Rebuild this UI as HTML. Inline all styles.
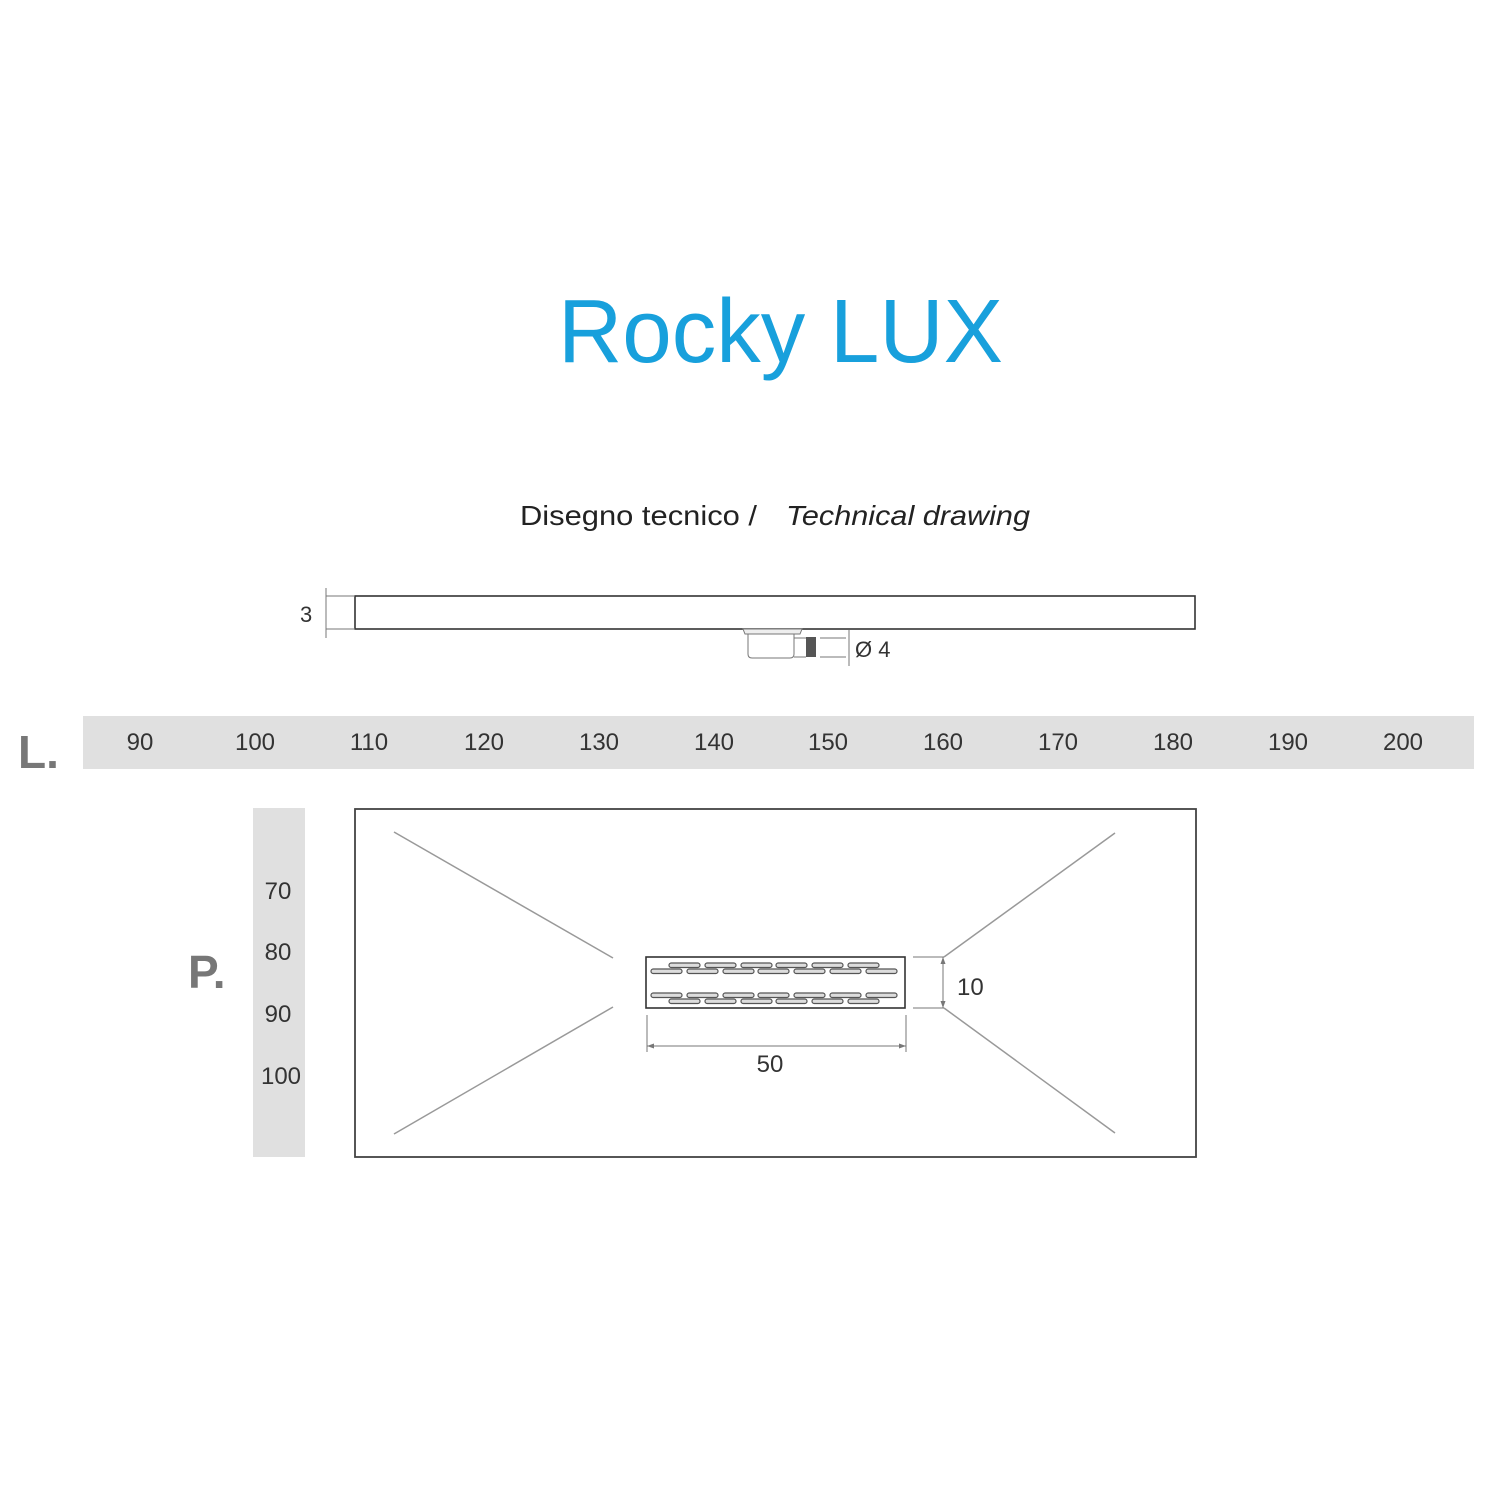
<!DOCTYPE html>
<html><head><meta charset="utf-8"><style>
html,body{margin:0;padding:0;background:#fff;}
svg{display:block;}
</style></head><body>
<svg width="1500" height="1500" viewBox="0 0 1500 1500" xmlns="http://www.w3.org/2000/svg" font-family="Liberation Sans, sans-serif">
<rect width="1500" height="1500" fill="#fff"/>
<text x="558" y="362" font-size="90" fill="#18a0dc" textLength="445" lengthAdjust="spacingAndGlyphs">Rocky LUX</text>
<text x="520" y="525" font-size="28" fill="#222" textLength="237" lengthAdjust="spacingAndGlyphs">Disegno tecnico /</text>
<text x="786" y="525" font-size="28" fill="#222" font-style="italic" textLength="244" lengthAdjust="spacingAndGlyphs">Technical drawing</text>

<!-- side view -->
<rect x="355" y="596" width="840" height="33" fill="none" stroke="#333" stroke-width="1.6"/>
<g stroke="#777" stroke-width="1">
<line x1="326" y1="588" x2="326" y2="638"/>
<line x1="326" y1="596" x2="355" y2="596"/>
<line x1="326" y1="629" x2="355" y2="629"/>
</g>
<text x="300" y="622" font-size="22" fill="#333">3</text>
<path d="M743 629 L802 629 L800 634 L745 634 Z" fill="#eee" stroke="#777" stroke-width="1"/>
<path d="M748 634 L794 634 L794 654 Q794 658 790 658 L752 658 Q748 658 748 654 Z" fill="#fff" stroke="#777" stroke-width="1"/>
<line x1="794" y1="638" x2="806" y2="638" stroke="#777"/>
<line x1="794" y1="657" x2="806" y2="657" stroke="#777"/>
<rect x="806" y="637" width="10" height="20" fill="#555"/>
<line x1="820" y1="638" x2="846" y2="638" stroke="#777"/>
<line x1="820" y1="657" x2="846" y2="657" stroke="#777"/>
<line x1="849" y1="630" x2="849" y2="666" stroke="#777"/>
<text x="855" y="657" font-size="22" fill="#333">Ø 4</text>

<!-- L bar -->
<rect x="83" y="716" width="1391" height="53" fill="#e0e0e0"/>
<text x="18" y="768" font-size="46" font-weight="bold" fill="#777">L.</text>
<g font-size="24" fill="#333" text-anchor="middle">
<text x="140" y="750">90</text><text x="255" y="750">100</text><text x="369" y="750">110</text>
<text x="484" y="750">120</text><text x="599" y="750">130</text><text x="714" y="750">140</text>
<text x="828" y="750">150</text><text x="943" y="750">160</text><text x="1058" y="750">170</text>
<text x="1173" y="750">180</text><text x="1288" y="750">190</text><text x="1403" y="750">200</text>
</g>

<!-- P bar -->
<rect x="253" y="808" width="52" height="349" fill="#e0e0e0"/>
<text x="188" y="988" font-size="46" font-weight="bold" fill="#777">P.</text>
<g font-size="24" fill="#333" text-anchor="middle">
<text x="278" y="899">70</text><text x="278" y="960">80</text><text x="278" y="1022">90</text><text x="281" y="1084">100</text>
</g>

<!-- top view -->
<rect x="355" y="809" width="841" height="348" fill="none" stroke="#444" stroke-width="1.8"/>
<g stroke="#999" stroke-width="1.5">
<line x1="394" y1="832" x2="613" y2="958"/>
<line x1="394" y1="1134" x2="613" y2="1007"/>
<line x1="1115" y1="833" x2="944" y2="957"/>
<line x1="1115" y1="1133" x2="944" y2="1008"/>
</g>
<rect x="646" y="957" width="259" height="51" fill="#fff" stroke="#333" stroke-width="1.6"/>
<g fill="#ddd" stroke="#555" stroke-width="1.2">
<rect x="669" y="963" width="31" height="4.5" rx="2.2"/><rect x="705" y="963" width="31" height="4.5" rx="2.2"/><rect x="741" y="963" width="31" height="4.5" rx="2.2"/><rect x="776" y="963" width="31" height="4.5" rx="2.2"/><rect x="812" y="963" width="31" height="4.5" rx="2.2"/><rect x="848" y="963" width="31" height="4.5" rx="2.2"/>
<rect x="651" y="969" width="31" height="4.5" rx="2.2"/><rect x="687" y="969" width="31" height="4.5" rx="2.2"/><rect x="723" y="969" width="31" height="4.5" rx="2.2"/><rect x="758" y="969" width="31" height="4.5" rx="2.2"/><rect x="794" y="969" width="31" height="4.5" rx="2.2"/><rect x="830" y="969" width="31" height="4.5" rx="2.2"/><rect x="866" y="969" width="31" height="4.5" rx="2.2"/>
<rect x="651" y="993" width="31" height="4.5" rx="2.2"/><rect x="687" y="993" width="31" height="4.5" rx="2.2"/><rect x="723" y="993" width="31" height="4.5" rx="2.2"/><rect x="758" y="993" width="31" height="4.5" rx="2.2"/><rect x="794" y="993" width="31" height="4.5" rx="2.2"/><rect x="830" y="993" width="31" height="4.5" rx="2.2"/><rect x="866" y="993" width="31" height="4.5" rx="2.2"/>
<rect x="669" y="999" width="31" height="4.5" rx="2.2"/><rect x="705" y="999" width="31" height="4.5" rx="2.2"/><rect x="741" y="999" width="31" height="4.5" rx="2.2"/><rect x="776" y="999" width="31" height="4.5" rx="2.2"/><rect x="812" y="999" width="31" height="4.5" rx="2.2"/><rect x="848" y="999" width="31" height="4.5" rx="2.2"/>
</g>
<g stroke="#777" stroke-width="1">
<line x1="913" y1="957" x2="944" y2="957"/>
<line x1="913" y1="1008" x2="944" y2="1008"/>
<line x1="943" y1="957" x2="943" y2="1008"/>
<line x1="647" y1="1015" x2="647" y2="1052"/>
<line x1="906" y1="1015" x2="906" y2="1052"/>
<line x1="647" y1="1046" x2="906" y2="1046"/>
</g>
<g fill="#777">
<path d="M943 957 l-2.5 7 h5 z"/><path d="M943 1008 l-2.5 -7 h5 z"/>
<path d="M647 1046 l7 -2.5 v5 z"/><path d="M906 1046 l-7 -2.5 v5 z"/>
</g>
<text x="957" y="995" font-size="24" fill="#333">10</text>
<text x="770" y="1072" font-size="24" fill="#333" text-anchor="middle">50</text>
</svg>
</body></html>
